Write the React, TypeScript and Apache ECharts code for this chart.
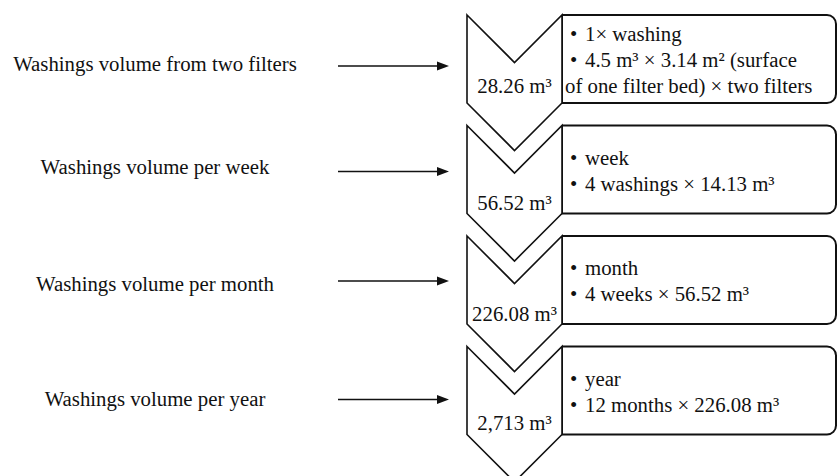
import React, { useEffect, useRef } from "react";
import * as echarts from "echarts";

// ---- data ----
const stepLabels = [
  "Washings volume from two filters",
  "Washings volume per week",
  "Washings volume per month",
  "Washings volume per year",
];
const stepVolumes = ["28.26 m³", "56.52 m³", "226.08 m³", "2,713 m³"];
const stepDetails = [
  ["• 1× washing", "• 4.5 m³ × 3.14 m² (surface", "of one filter bed) × two filters"],
  ["• week", "• 4 washings × 14.13 m³"],
  ["• month", "• 4 weeks × 56.52 m³"],
  ["• year", "• 12 months × 226.08 m³"],
];

// ---- layout (pixels relative to each step's top) ----
const labelDy = [48, 41, 47, 52];
const arrowDy = [51, 46, 45, 53];
const valueDy = [70, 77, 77, 76];

function txt(text: string, x: number, y: number, align: string, size = 20.8) {
  return {
    type: "text",
    style: {
      text,
      x,
      y,
      fontSize: size,
      fontFamily: "Liberation Serif",
      fill: "#111",
      align,
      textAlign: align,
      verticalAlign: "middle",
      textVerticalAlign: "middle",
    },
  };
}

export default function App() {
  const ref = useRef<HTMLDivElement>(null);
  useEffect(() => {
    if (!ref.current) return;
    const chart = echarts.init(ref.current, null, { renderer: "svg" });
    chart.setOption({
      animation: false,
      backgroundColor: "#fff",
      textStyle: { fontFamily: "Liberation Serif" },
      grid: { left: 0, right: 0, top: 15, bottom: 19 },
      xAxis: { type: "value", min: 0, max: 838, show: false },
      yAxis: { type: "value", min: 0, max: 4, inverse: true, show: false },
      series: [
        {
          type: "custom",
          coordinateSystem: "cartesian2d",
          data: stepLabels.map((_, i) => [0, i]),
          renderItem: (params: any, api: any) => {
            const i = params.dataIndex;
            const top = api.coord([0, api.value(1)])[1];
            const X = (v: number) => api.coord([v, 0])[0];
            const cl = X(467), cc = X(514.5), cr = X(562);
            const half = cr - cc;
            const sideH = 88;
            const children: any[] = [];
            // detail box
            children.push({
              type: "rect",
              shape: { x: cr, y: top, width: X(836) - cr, height: sideH, r: [0, 9, 9, 0] },
              style: { fill: "#fff", stroke: "#111", lineWidth: 2 },
            });
            // chevron
            children.push({
              type: "polygon",
              shape: {
                points: [
                  [cl, top],
                  [cc, top + half],
                  [cr, top],
                  [cr, top + sideH],
                  [cc, top + sideH + half],
                  [cl, top + sideH],
                ],
              },
              style: { fill: "#fff", stroke: "#111", lineWidth: 1.6, lineJoin: "miter" },
            });
            // volume
            children.push(txt(stepVolumes[i], cc, top + valueDy[i], "center"));
            // detail lines
            const lines = stepDetails[i];
            const lh = 26;
            const y0 = top + 44.5 - ((lines.length - 1) * lh) / 2;
            lines.forEach((ln, k) => {
              const y = y0 + k * lh;
              if (ln.startsWith("• ")) {
                children.push(txt("•", X(570), y, "left"));
                children.push(txt(ln.slice(2), X(585), y, "left"));
              } else {
                children.push(txt(ln, X(565), y, "left"));
              }
            });
            // left label
            children.push(txt(stepLabels[i], X(155), top + labelDy[i], "center"));
            // arrow
            const ay = top + arrowDy[i];
            children.push({
              type: "line",
              shape: { x1: X(338), y1: ay, x2: X(440), y2: ay },
              style: { stroke: "#111", lineWidth: 1.3 },
            });
            children.push({
              type: "polygon",
              shape: { points: [[X(437), ay - 4.5], [X(449), ay], [X(437), ay + 4.5]] },
              style: { fill: "#111" },
            });
            return { type: "group", children };
          },
        },
      ],
    });
    return () => chart.dispose();
  }, []);
  return (
    <div
      ref={ref}
      style={{ position: "fixed", left: 0, top: 0, width: 838, height: 476, background: "#fff" }}
    />
  );
}
